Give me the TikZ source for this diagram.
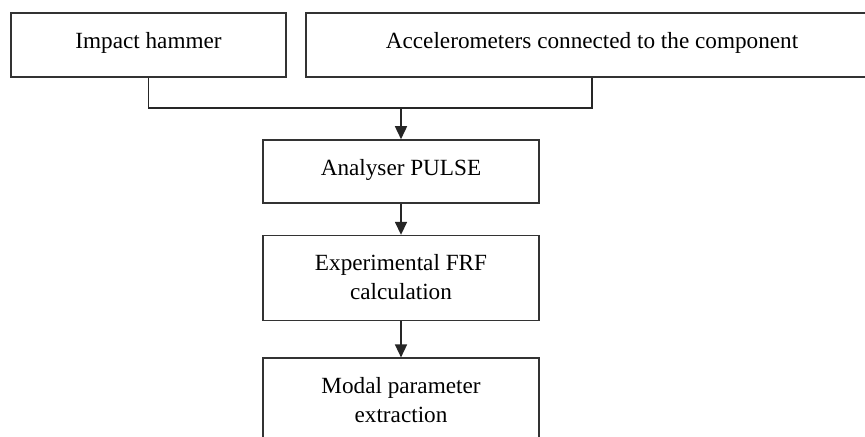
\documentclass[tikz,border=0pt]{standalone}
\usepackage{fontspec}
\setmainfont{Liberation Serif}
\usetikzlibrary{positioning}
\usetikzlibrary{arrows.meta}
\newcommand{\flowboxw}{138pt}
\newcommand{\toprowh}{32pt}
\newcommand{\txtdrop}{-7.6pt}
\tikzset{
  flowbox/.style={draw=black!80, line width=0.8pt, fill=white, inner sep=0pt},
  flowtxt/.style={anchor=north, inner sep=0pt, align=center,
    font=\fontsize{11.6}{14.5}\selectfont},
  flowline/.style={draw=black!85, line width=0.8pt},
  flowarr/.style={flowline, -{Triangle[width=6pt,length=6.5pt]}}
}

\begin{document}
\begin{tikzpicture}[x=0.5pt,y=-0.5pt]
  \path[use as bounding box, clip] (0,0) rectangle (865,436);
  \fill[white] (0,0) rectangle (865,436);
  % top row
  \node[flowbox, minimum width=137.5pt, minimum height=\toprowh] (hammer) at (148.5,45) {};
  \node[flowbox, minimum width=286pt, minimum height=\toprowh] (accel) at (592,45) {};
  % middle column
  \node[flowbox, minimum width=\flowboxw, minimum height=31.5pt] (pulse) at (401,171.5) {};
  \node[flowbox, minimum width=\flowboxw, minimum height=42.5pt, below=15.5pt of pulse] (frf) {};
  \node[flowbox, minimum width=\flowboxw, minimum height=45pt, below=18pt of frf] (modal) {};
  % texts
  \node[flowtxt] (hammertxt) at ([yshift=\txtdrop]hammer.north) {Impact hammer\strut};
  \node[flowtxt] (acceltxt) at ([yshift=\txtdrop]accel.north) {Accelerometers connected to the component\strut};
  \node[flowtxt] (pulsetxt) at ([yshift=\txtdrop]pulse.north) {Analyser PULSE\strut};
  \node[flowtxt] (frftxt) at ([yshift=\txtdrop]frf.north) {Experimental FRF\strut\\calculation\strut};
  \node[flowtxt] (modaltxt) at ([yshift=\txtdrop]modal.north) {Modal parameter\strut\\extraction\strut};
  % connectors
  \coordinate (joinrow) at (0,108);
  \coordinate (join) at (pulse.north |- joinrow);
  \draw[flowline] (hammer.south) |- (join) -| (accel.south);
  \draw[flowarr] (join) -- (pulse.north);
  \draw[flowarr] (pulse.south) -- (frf.north);
  \draw[flowarr] (frf.south) -- (modal.north);
\end{tikzpicture}
\end{document}
